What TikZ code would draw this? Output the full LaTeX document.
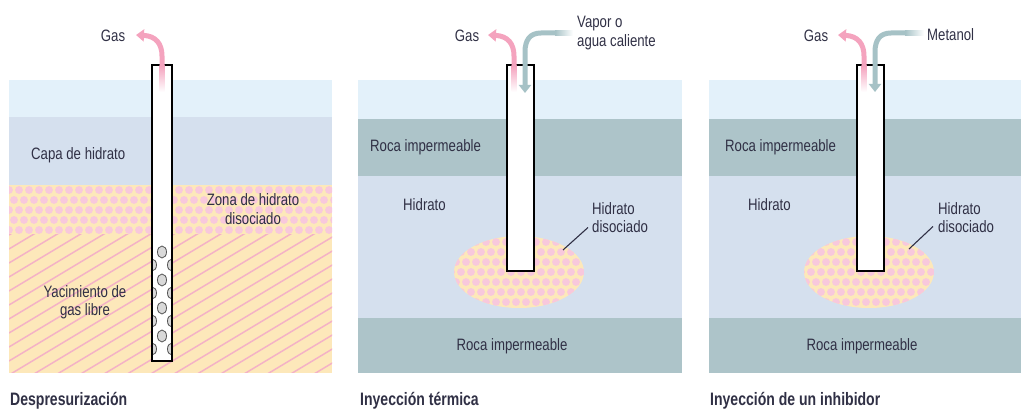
\documentclass[tikz,border=0pt]{standalone}
\usepackage{fontspec}
\setmainfont{Liberation Sans}[FakeStretch=0.8]
\newfontfamily\capfont{Liberation Sans}[FakeStretch=0.78]
\usetikzlibrary{arrows.meta}
\definecolor{sky}{HTML}{E3F1FA}
\definecolor{hyd}{HTML}{D5E0EE}
\definecolor{rock}{HTML}{ADC4C9}
\definecolor{sand}{HTML}{FDE8BA}
\definecolor{dotpink}{HTML}{F8C8DC}
\definecolor{hatchpink}{HTML}{F4B2C6}
\definecolor{gaspink}{HTML}{F4A3BE}
\definecolor{steam}{HTML}{A6C2C6}
\definecolor{txt}{HTML}{303045}
\definecolor{holefill}{HTML}{D9D9D9}
\definecolor{holeline}{HTML}{555555}

\tikzset{
  lbl/.style={text=txt, font=\fontsize{16.5}{18.5}\selectfont, inner sep=0pt},
  caption/.style={text=txt, font=\capfont\bfseries\fontsize{18}{20}\selectfont, inner sep=0pt, anchor=west},
  pipe/.style={draw=black, fill=white, line width=1.2pt},
  gasflow/.style={draw=gaspink, line width=5pt, -{Triangle[width=12pt,length=8pt]}},
  steamflow/.style={draw=steam, line width=5pt, -{Triangle[width=12pt,length=8pt]}},
  leader/.style={draw=txt, line width=1.1pt},
  hole/.style={fill=holefill, draw=holeline, line width=0.8pt}
}

\begin{document}
\begin{tikzpicture}[x=1pt,y=-1pt]
\useasboundingbox (0,0) rectangle (1021,411);

% ---------- Despresurizacion ----------
\fill[sky] (9,80) rectangle (332,117);
\fill[hyd] (9,117) rectangle (332,185);
\fill[sand] (9,185) rectangle (332,373);
\begin{scope}
  \clip (9,185) rectangle (332,235);
  \foreach \k in {0,...,5} {
    \pgfmathsetmacro\off{mod(\k,2)*5}
    \foreach \i in {0,...,33}
      \fill[dotpink] (9+\off+10*\i,190+10*\k) circle[radius=3.9pt];
  }
\end{scope}
\begin{scope}
  \clip (9,235) rectangle (332,373);
  \foreach \i in {0,...,42}
    \draw[hatchpink, line width=1.5pt] (9,235+14*\i) -- ++(340,-204);
\end{scope}

\draw[pipe] (152,65) rectangle (172,361);
\begin{scope}
  \clip (152,65) rectangle (172,361);
  \foreach \k in {0,...,3} {
    \draw[hole] (162,252+28*\k) ellipse[x radius=4.5pt, y radius=6pt];
    \draw[hole] (152,265+28*\k) ellipse[x radius=4.5pt, y radius=6pt];
    \draw[hole] (172,265+28*\k) ellipse[x radius=4.5pt, y radius=6pt];
  }
\end{scope}
\draw[black, line width=1.2pt] (152,65) rectangle (172,361);

\node[lbl] (gas1) at (113,36) {Gas};
\coordinate (w1) at (162,66);
\coordinate (g1) at (136,35);
\shade[top color=gaspink, bottom color=white] (159.5,66) rectangle (164.5,92);
\draw[gasflow] (w1) -- (162,56) .. controls (162,44) and (156,36) .. (g1);
\node[lbl, anchor=west] (capa) at (31,155) {Capa de hidrato};
\node[lbl, align=center] (zona) at (253,209) {Zona de hidrato\\disociado};
\node[lbl, align=center] (yac) at (85,302) {Yacimiento de\\gas libre};
\node[caption] (c1) at (10,401) {Despresurización};

% ---------- Inyeccion termica ----------
\fill[sky] (358,80) rectangle (682,119);
\fill[rock] (358,119) rectangle (682,176);
\fill[hyd] (358,176) rectangle (682,318);
\fill[rock] (358,318) rectangle (682,373);
\fill[sand] (519,272) ellipse[x radius=65pt, y radius=36pt];
\begin{scope}
  \clip (519,272) ellipse[x radius=65pt, y radius=36pt];
  \foreach \k in {0,...,8} {
    \pgfmathsetmacro\off{mod(\k,2)*5}
    \foreach \i in {0,...,14}
      \fill[dotpink] (451+\off+10*\i,232+10*\k) circle[radius=3.9pt];
  }
\end{scope}
\draw[pipe] (507,65) rectangle (534,271);

\node[lbl] (gas2) at (467,36) {Gas};
\node[lbl, anchor=west, align=left] (vap) at (577,33) {Vapor o\\agua caliente};
\coordinate (w2) at (514,66);
\coordinate (g2) at (488,35);
\shade[top color=gaspink, bottom color=white] (511.5,66) rectangle (516.5,92);
\draw[gasflow] (w2) -- (514,56) .. controls (514,44) and (508,36) .. (g2);
\shade[left color=steam, right color=white] (555,30.5) rectangle (573,35.5);
\coordinate (s2) at (556,33);
\coordinate (e2) at (525,93);
\draw[steamflow] (s2) -- (541,33) .. controls (530,33) and (525,40) .. (525,52) -- (e2);

\node[lbl, anchor=west] (r2a) at (370,147) {Roca impermeable};
\node[lbl, anchor=west] (h2) at (403,205) {Hidrato};
\node[lbl, anchor=west, align=left] (hd2) at (592,217.5) {Hidrato\\disociado};
\coordinate (t2) at (563,250);
\draw[leader] (hd2.west) ++(-4,10) -- (t2);
\node[lbl] (r2b) at (512,346) {Roca impermeable};
\node[caption] (c2) at (360,401) {Inyección térmica};

% ---------- Inyeccion de un inhibidor ----------
\fill[sky] (709,80) rectangle (1021,119);
\fill[rock] (709,119) rectangle (1021,176);
\fill[hyd] (709,176) rectangle (1021,318);
\fill[rock] (709,318) rectangle (1021,373);
\fill[sand] (869,272) ellipse[x radius=65pt, y radius=36pt];
\begin{scope}
  \clip (869,272) ellipse[x radius=65pt, y radius=36pt];
  \foreach \k in {0,...,8} {
    \pgfmathsetmacro\off{mod(\k,2)*5}
    \foreach \i in {0,...,14}
      \fill[dotpink] (801+\off+10*\i,232+10*\k) circle[radius=3.9pt];
  }
\end{scope}
\draw[pipe] (857,65) rectangle (884,271);

\node[lbl] (gas3) at (816,36) {Gas};
\node[lbl, anchor=west] (met) at (927,35) {Metanol};
\coordinate (w3) at (864,66);
\coordinate (g3) at (838,35);
\shade[top color=gaspink, bottom color=white] (861.5,66) rectangle (866.5,92);
\draw[gasflow] (w3) -- (864,56) .. controls (864,44) and (858,36) .. (g3);
\shade[left color=steam, right color=white] (905,30.5) rectangle (924,35.5);
\coordinate (s3) at (906,33);
\coordinate (e3) at (875,92);
\draw[steamflow] (s3) -- (891,33) .. controls (880,33) and (875,40) .. (875,52) -- (e3);

\node[lbl, anchor=west] (r3a) at (725,147) {Roca impermeable};
\node[lbl, anchor=west] (h3) at (748,205) {Hidrato};
\node[lbl, anchor=west, align=left] (hd3) at (938,217.5) {Hidrato\\disociado};
\coordinate (t3) at (909,249);
\draw[leader] (hd3.west) ++(-5,9) -- (t3);
\node[lbl] (r3b) at (862,346) {Roca impermeable};
\node[caption] (c3) at (710,401) {Inyección de un inhibidor};
\end{tikzpicture}
\end{document}
